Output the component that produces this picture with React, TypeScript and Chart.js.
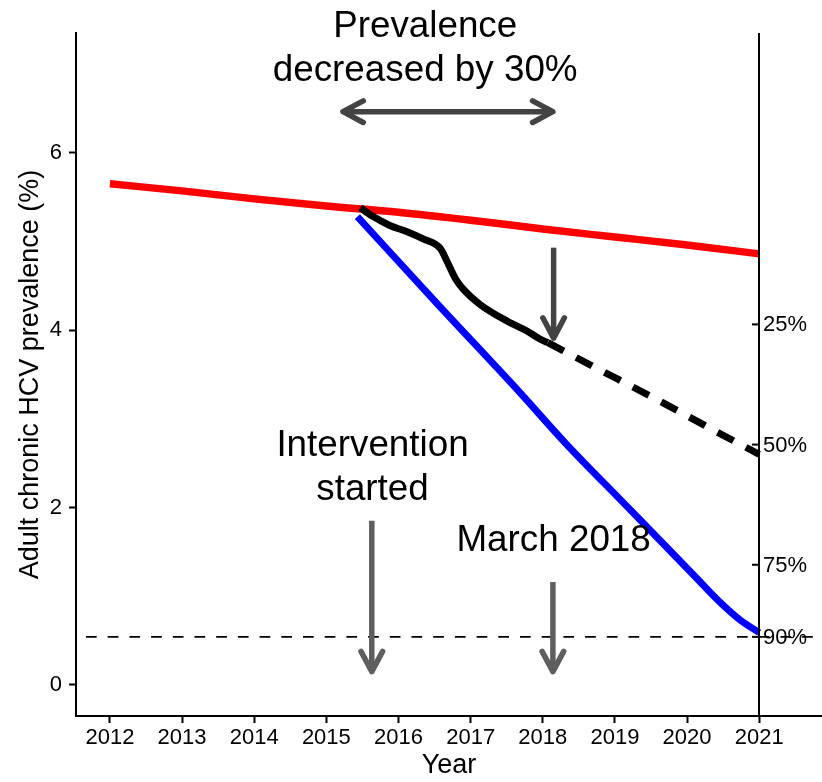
import React, { useEffect, useRef } from "react";
import { Chart, registerables } from "chart.js";

Chart.register(...registerables);

// ---------------- data ----------------
const yearTicks = [2012, 2013, 2014, 2015, 2016, 2017, 2018, 2019, 2020, 2021];
const prevalenceTicks = [0, 2, 4, 6];

// Status quo (no intervention)
const redYears = [2012, 2013, 2014, 2015, 2016, 2017, 2018, 2019, 2020, 2021];
const redValues = [5.65, 5.57, 5.48, 5.4, 5.33, 5.24, 5.14, 5.05, 4.96, 4.86];

// Target trajectory
const blueYears = [2015.43, 2016.5, 2017.69, 2018.31, 2019.17, 2020.09, 2020.46, 2020.74, 2021];
const blueValues = [5.28, 4.33, 3.29, 2.73, 2.01, 1.24, 0.93, 0.73, 0.59];

// Observed (modelled) to March 2018
const blackYears = [2015.47, 2015.65, 2015.88, 2016.12, 2016.34, 2016.58, 2016.67, 2016.79, 2016.9, 2017.13, 2017.51, 2017.78, 2017.96, 2018.07];
const blackValues = [5.38, 5.28, 5.18, 5.11, 5.03, 4.92, 4.78, 4.58, 4.46, 4.29, 4.1, 3.99, 3.9, 3.86];

// Projection from March 2018
const projYears = [2018.07, 2018.7, 2019.53, 2020.35, 2021];
const projValues = [3.86, 3.59, 3.24, 2.88, 2.6];

// Right-hand reduction axis (at 2021)
const rightAxisYear = 2021;
const reductionLabels = ["25%", "50%", "75%", "90%"];
const reductionValues = [4.065, 2.71, 1.355, 0.542];
const targetValue = 0.542;

// Annotations (data coordinates)
const textNotes = [
  { lines: ["Prevalence", "decreased by 30%"], x: 2016.37, y: 7.175 },
  { lines: ["Intervention", "started"], x: 2015.64, y: 2.445 },
  { lines: ["March 2018"], x: 2018.15, y: 1.62 },
];
const arrowNotes = [
  { x1: 2015.23, y1: 6.463, x2: 2018.14, y2: 6.463, both: true, dark: true },
  { x1: 2018.15, y1: 4.93, x2: 2018.15, y2: 3.91, both: false, dark: true },
  { x1: 2015.63, y1: 1.85, x2: 2015.63, y2: 0.15, both: false, dark: false },
  { x1: 2018.14, y1: 1.16, x2: 2018.14, y2: 0.15, both: false, dark: false },
];

const FONT = "'Liberation Sans', Arial, Helvetica, sans-serif";

function toPts(xs: number[], ys: number[]) {
  return xs.map((x, i) => ({ x, y: ys[i] }));
}

function drawHead(ctx: CanvasRenderingContext2D, tx: number, ty: number, fx: number, fy: number) {
  const ang = Math.atan2(ty - fy, tx - fx);
  const L = 23;
  const a = (28 * Math.PI) / 180;
  ctx.beginPath();
  ctx.moveTo(tx - L * Math.cos(ang - a), ty - L * Math.sin(ang - a));
  ctx.lineTo(tx, ty);
  ctx.lineTo(tx - L * Math.cos(ang + a), ty - L * Math.sin(ang + a));
  ctx.stroke();
}

const annotationPlugin = {
  id: "hcvAnnotations",
  beforeDatasetsDraw(chart: any) {
    const { ctx, chartArea, scales } = chart;
    const py = scales.y.getPixelForValue(targetValue);
    ctx.save();
    ctx.strokeStyle = "#000";
    ctx.lineWidth = 1.6;
    ctx.setLineDash([10.7, 11]);
    ctx.lineDashOffset = 11.7;
    ctx.beginPath();
    ctx.moveTo(chartArea.left, py);
    ctx.lineTo(chartArea.right, py);
    ctx.stroke();
    ctx.restore();
  },
  afterDatasetsDraw(chart: any) {
    const { ctx, chartArea, scales } = chart;
    const xs = scales.x;
    const ys = scales.y;
    ctx.save();
    // right reduction axis
    const px = Math.round(xs.getPixelForValue(rightAxisYear));
    ctx.strokeStyle = "#000";
    ctx.lineWidth = 2;
    ctx.beginPath();
    ctx.moveTo(px, chartArea.top);
    ctx.lineTo(px, chartArea.bottom);
    ctx.stroke();
    ctx.font = `22px ${FONT}`;
    ctx.fillStyle = "#000";
    ctx.textAlign = "left";
    ctx.textBaseline = "middle";
    reductionValues.forEach((v, i) => {
      const py = ys.getPixelForValue(v);
      ctx.beginPath();
      ctx.moveTo(px - 7, py);
      ctx.lineTo(px, py);
      ctx.stroke();
      ctx.fillText(reductionLabels[i], px + 4, py + 1);
    });

    // arrows
    arrowNotes.forEach((a) => {
      const x1 = xs.getPixelForValue(a.x1);
      const y1 = ys.getPixelForValue(a.y1);
      const x2 = xs.getPixelForValue(a.x2);
      const y2 = ys.getPixelForValue(a.y2);
      ctx.strokeStyle = a.dark ? "#434343" : "#5e5e5e";
      ctx.lineWidth = 5.5;
      ctx.lineCap = "butt";
      ctx.beginPath();
      ctx.moveTo(x1, y1);
      ctx.lineTo(x2, y2);
      ctx.stroke();
      ctx.lineCap = "round";
      ctx.lineJoin = "round";
      drawHead(ctx, x2, y2, x1, y1);
      if (a.both) drawHead(ctx, x1, y1, x2, y2);
    });

    // texts
    ctx.font = `36.8px ${FONT}`;
    ctx.fillStyle = "#000";
    ctx.textAlign = "center";
    ctx.textBaseline = "middle";
    textNotes.forEach((t) => {
      const cx = xs.getPixelForValue(t.x);
      const cy = ys.getPixelForValue(t.y);
      const lh = 44;
      const n = t.lines.length;
      t.lines.forEach((line, i) => {
        ctx.fillText(line, cx, cy + (i - (n - 1) / 2) * lh);
      });
    });
    ctx.restore();
  },
};

export default function App() {
  const ref = useRef<HTMLCanvasElement | null>(null);
  useEffect(() => {
    document.body.style.margin = "0";
    if (!ref.current) return;
    Chart.defaults.font.family = FONT;
    Chart.defaults.color = "#000";
    const common = {
      pointRadius: 0,
      fill: false,
      cubicInterpolationMode: "monotone" as const,
      borderCapStyle: "butt" as const,
      borderJoinStyle: "round" as const,
    };
    const chart = new Chart(ref.current, {
      type: "line",
      data: {
        datasets: [
          { ...common, label: "Observed", data: toPts(blackYears, blackValues), borderColor: "#000", borderWidth: 7 },
          { ...common, label: "Projected", data: toPts(projYears, projValues), borderColor: "#000", borderWidth: 7, borderDash: [18, 14] },
          { ...common, label: "No intervention", data: toPts(redYears, redValues), borderColor: "#ff0000", borderWidth: 7.5 },
          { ...common, label: "Target", data: toPts(blueYears, blueValues), borderColor: "#0000ff", borderWidth: 7 },
        ],
      },
      options: {
        animation: false,
        responsive: false,
        layout: { padding: { top: 33, right: 0, left: 0, bottom: 0 } },
        plugins: { legend: { display: false }, tooltip: { enabled: false } },
        scales: {
          x: {
            type: "linear",
            min: 2011.53,
            max: 2021.87,
            afterBuildTicks: (s: any) => {
              s.ticks = yearTicks.map((v) => ({ value: v }));
            },
            afterFit: (s: any) => {
              s.height = 66;
            },
            grid: { drawOnChartArea: false, drawTicks: true, tickLength: 7, color: "#000", tickColor: "#000", tickWidth: 2 },
            border: { display: true, color: "#000", width: 2 },
            ticks: { font: { size: 22 }, color: "#000", padding: 2, callback: (v: any) => String(v), maxRotation: 0, autoSkip: false },
            title: { display: true, text: "Year", font: { size: 27 }, color: "#000", padding: { top: 0, bottom: 0 } },
          },
          y: {
            type: "linear",
            min: -0.35,
            max: 7.35,
            afterBuildTicks: (s: any) => {
              s.ticks = prevalenceTicks.map((v) => ({ value: v }));
            },
            afterFit: (s: any) => {
              s.width = 76;
            },
            grid: { drawOnChartArea: false, drawTicks: true, tickLength: 7, color: "#000", tickColor: "#000", tickWidth: 2 },
            border: { display: true, color: "#000", width: 2 },
            ticks: { font: { size: 22 }, color: "#000", padding: 7, callback: (v: any) => String(v) },
            title: { display: true, text: "Adult chronic HCV prevalence (%)", font: { size: 27 }, color: "#000", padding: { top: 14, bottom: 0 } },
          },
        },
      },
      plugins: [annotationPlugin],
    });
    return () => chart.destroy();
  }, []);
  return <canvas ref={ref} width={822} height={782} style={{ display: "block" }} />;
}
